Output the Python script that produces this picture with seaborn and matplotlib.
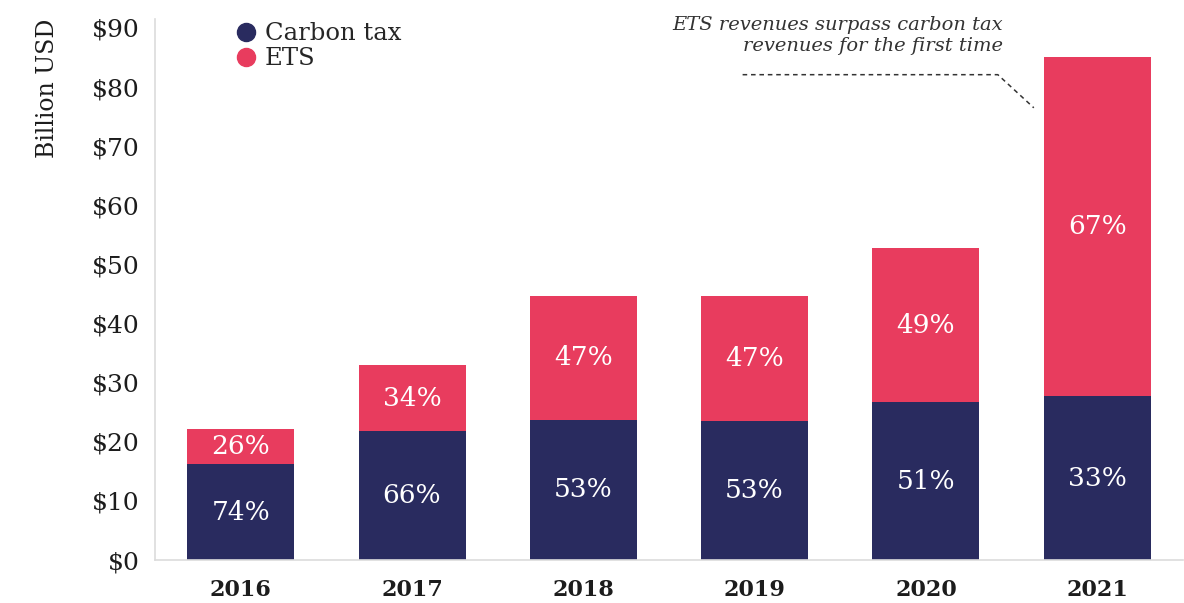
import pandas as pd
import seaborn as sns
import matplotlib.pyplot as plt
from matplotlib.lines import Line2D

# data (billion USD)
years = ["2016", "2017", "2018", "2019", "2020", "2021"]
carbon_tax = [16.2, 21.8, 23.7, 23.5, 26.7, 27.7]
ets = [6.0, 11.2, 21.0, 21.2, 26.1, 57.4]
carbon_pct = ["74%", "66%", "53%", "53%", "51%", "33%"]
ets_pct = ["26%", "34%", "47%", "47%", "49%", "67%"]
y_ticks = [0, 10, 20, 30, 40, 50, 60, 70, 80, 90]

navy = "#292b5f"
red = "#e83c5e"
ink = "#1c1c1c"

df = pd.DataFrame({"year": years, "carbon": carbon_tax, "ets": ets})
df["total"] = df["carbon"] + df["ets"]

sns.set_style("white")
plt.rcParams["font.family"] = ["DejaVu Serif"]

fig = plt.figure(figsize=(11.84, 6.03), dpi=100)
ax = fig.add_axes([0.131, 0.0713, 0.868, 0.897])

sns.barplot(data=df, x="year", y="total", color=red, width=0.625, saturation=1,
            linewidth=0, ax=ax)
sns.barplot(data=df, x="year", y="carbon", color=navy, width=0.625, saturation=1,
            linewidth=0, ax=ax)

# percentage labels in the middle of each segment
for i, row in df.iterrows():
    ax.text(i, row["carbon"] / 2, carbon_pct[i], ha="center", va="center",
            color="white", fontsize=19)
    ax.text(i, row["carbon"] + row["ets"] / 2, ets_pct[i], ha="center", va="center",
            color="white", fontsize=19)

ax.set_xlim(-0.5, 5.5)
ax.set_ylim(0, 91.5)
ax.set_yticks(y_ticks)
ax.set_yticklabels(["$" + str(t) for t in y_ticks], fontsize=18, color=ink)
ax.tick_params(axis="y", length=0, pad=11)
ax.tick_params(axis="x", length=0, pad=14)
for lbl in ax.get_xticklabels():
    lbl.set_fontweight("bold")
    lbl.set_fontsize(16)
    lbl.set_color(ink)
ax.set_xlabel("")
ax.set_ylabel("Billion USD", fontsize=17, color=ink, loc="top", labelpad=24)

for side in ["top", "right"]:
    ax.spines[side].set_visible(False)
for side in ["left", "bottom"]:
    ax.spines[side].set_color("#dcdcdc")
    ax.spines[side].set_linewidth(1.2)

handles = [
    Line2D([], [], marker="o", linestyle="", color=navy, markersize=13),
    Line2D([], [], marker="o", linestyle="", color=red, markersize=13),
]
ax.legend(handles, ["Carbon tax", "ETS"], loc="upper left", bbox_to_anchor=(0.049, 1.035),
          frameon=False, fontsize=17.5, handletextpad=0.05, labelspacing=0.1,
          handlelength=1.5)

# annotation for 2021
ax.text(4.45, 88.7, "ETS revenues surpass carbon tax\nrevenues for the first time",
        ha="right", va="center", style="italic", fontsize=14, color="#333333",
        linespacing=1.25)
ax.plot([2.93, 4.42, 4.63], [82.1, 82.1, 76.5], linestyle=(0, (3, 2.5)),
        color="#333333", linewidth=1.1)

fig.savefig("out.png", dpi=100)
